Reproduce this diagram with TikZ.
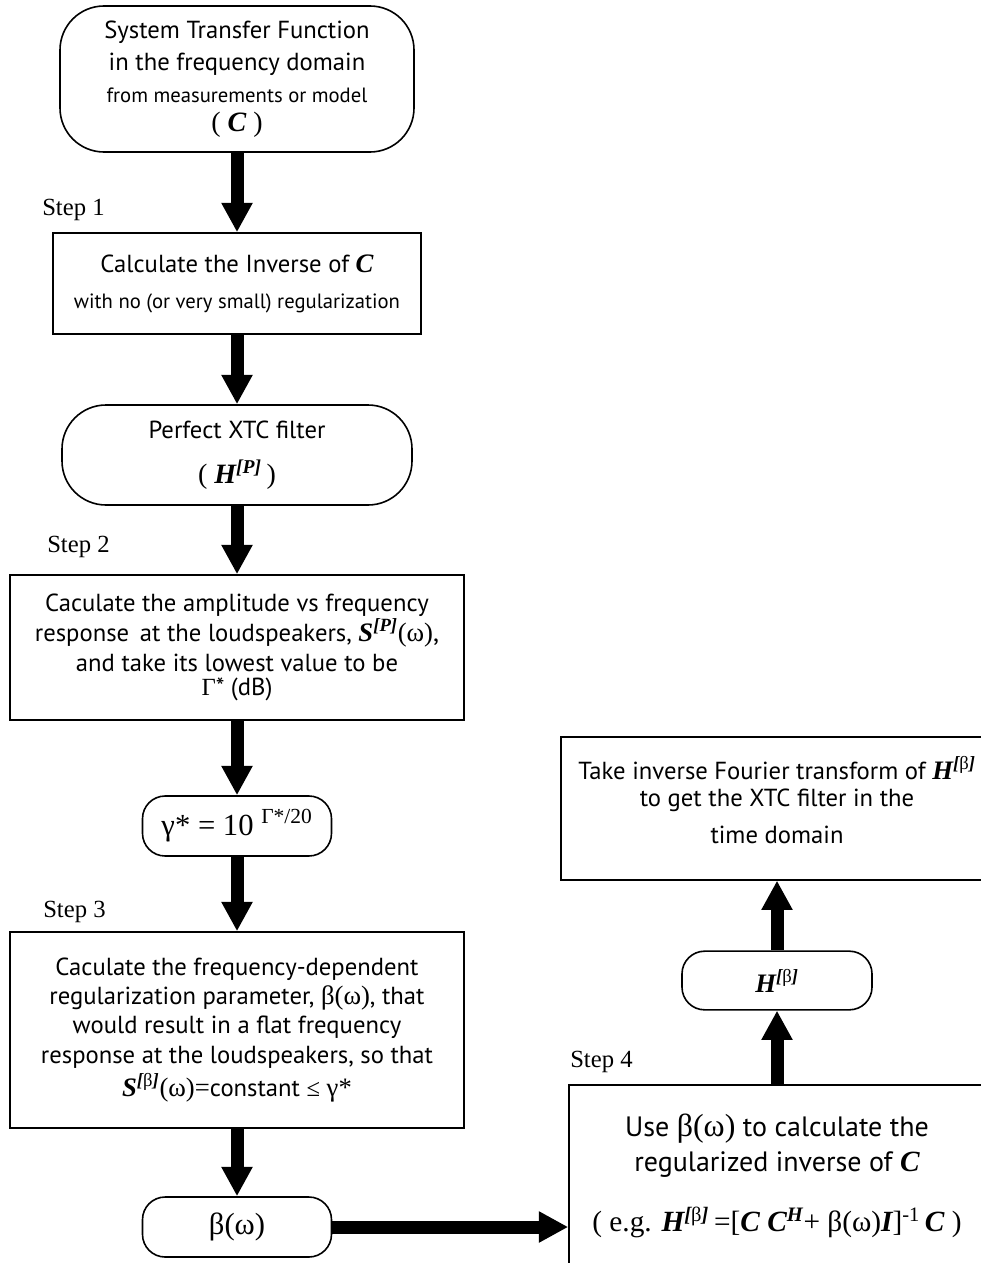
\documentclass[tikz,border=0pt]{standalone}
\usepackage{fontspec}
\setmainfont{PT Sans}
\newfontfamily\serif{Liberation Serif}
\usetikzlibrary{arrows.meta,positioning,calc}

% bold italic serif symbols and superscripts
\newcommand{\bv}[1]{{\serif\bfseries\itshape #1}}
\newcommand{\supP}{\textsuperscript{\serif\bfseries\itshape [P]}}
\newcommand{\supB}{\textsuperscript{\serif\bfseries\itshape [\upshape\mdseries β\bfseries\itshape ]}}

\tikzset{
  procbox/.style={draw, line width=1.2pt, align=center, inner sep=2pt,
    font=\fontsize{18.5}{24}\selectfont},
  termbox/.style={procbox, rounded corners=33pt},
  smallterm/.style={procbox, rounded corners=17pt},
  flow/.style={line width=9.75pt, -{Triangle[width=22pt,length=22pt]}},
  steplabel/.style={font=\serif\fontsize{18.5}{20}\selectfont, anchor=west, inner sep=0pt},
}

\begin{document}
\begin{tikzpicture}[x=0.75pt,y=-0.75pt]
  \useasboundingbox (0,0) rectangle (981,1263);
  \clip (0,0) rectangle (981,1263);

  % left column
  \node[termbox, minimum width=265.5pt, minimum height=109.5pt] (tf) at (237,79)
    {System Transfer Function\\ in the frequency domain\\
     {\fontsize{15.5}{24}\selectfont from measurements or model}\\[-2pt]
     {\serif\fontsize{21}{24}\selectfont ( \bv{C} )}};
  \node[procbox, minimum width=276pt, minimum height=75.75pt] (inv) at (237,283.5)
    {Calculate the Inverse of {\fontsize{20}{24}\selectfont\bv{C}}\\[3pt]
     {\fontsize{15.5}{24}\selectfont with no (or very small) regularization}};
  \node[termbox, minimum width=262.5pt, minimum height=75pt] (perf) at (237,455)
    {Perfect XTC filter\\[10pt]
     {\serif\fontsize{21}{24}\selectfont ( \bv{H}\supP\,)}};
  \node[procbox, minimum width=340.5pt, minimum height=108.75pt,
    font=\fontsize{18.5}{22.5}\selectfont] (resp) at (237,647.5)
    {Caculate the amplitude vs frequency\\
     response\, at the loudspeakers, {\fontsize{20}{22}\selectfont\bv{S}\supP{\serif(ω)},}\\
     and take its lowest value to be\\[-4pt]
     {\serif Γ}* (dB)};
  \node[smallterm, minimum width=141.75pt, minimum height=45pt] (gam) at (237,826)
    {{\serif\fontsize{23}{24}\selectfont γ* = 10 \textsuperscript{Γ*/20}}};
  \node[procbox, minimum width=340.5pt, minimum height=147pt,
    font=\fontsize{18.5}{22}\selectfont] (reg) at (237,1030)
    {Caculate the frequency-dependent\\
     regularization parameter, {\serif\fontsize{20}{22}\selectfont β(ω)}, that\\
     would result in a flat frequency\\
     response at the loudspeakers, so that\\[3pt]
     {\fontsize{20}{22}\selectfont\bv{S}\supB{\serif(ω)=}}constant {\serif≤} {\serif\fontsize{20}{22}\selectfont γ*}};
  \node[smallterm, minimum width=141.75pt, minimum height=45pt] (beta) at (237,1227)
    {{\serif\fontsize{23}{24}\selectfont β(ω)}};

  % right column
  \node[procbox, minimum width=312pt, minimum height=136.5pt,
    font=\fontsize{21}{26}\selectfont] (use4) at (777,1176)
    {Use {\serif\fontsize{24}{26}\selectfont β(ω)} to calculate the\\
     regularized inverse of {\fontsize{22}{26}\selectfont\bv{C}}\\[19pt]
     {\serif\fontsize{22}{26}\selectfont ( e.g. \bv{H}\supB\,=[\bv{C} \bv{C}\textsuperscript{\bfseries\itshape H}+ β(ω)\bv{I}]\textsuperscript{-1}\,\bv{C} )}};
  \node[smallterm, minimum width=142.5pt, minimum height=44pt] (hb) at (777,980.5)
    {{\fontsize{20}{24}\selectfont\bv{H}\supB}};
  \node[procbox, minimum width=324pt, minimum height=107pt, text depth=13pt,
    font=\fontsize{18.5}{20}\selectfont] (ift) at (777,808.5)
    {Take inverse Fourier transform of {\fontsize{20}{20}\selectfont\bv{H}\supB}\\
     to get the XTC filter in the\\[8pt]
     time domain};

  % step labels
  \node[steplabel] (s1) at (42,210) {Step 1};
  \node[steplabel] (s2) at (47,547) {Step 2};
  \node[steplabel] (s3) at (43,912) {Step 3};
  \node[steplabel] (s4) at (570,1062) {Step 4};

  % flow
  \draw[flow] (tf) -- (inv);
  \draw[flow] (inv) -- (perf);
  \draw[flow] (perf) -- (resp);
  \draw[flow] (resp) -- (gam);
  \draw[flow] (gam) -- (reg);
  \draw[flow] (reg) -- (beta);
  \draw[flow] (beta.east) -- (beta.east -| use4.west);
  \draw[flow] (use4) -- (hb);
  \draw[flow] (hb) -- (ift);
\end{tikzpicture}
\end{document}
